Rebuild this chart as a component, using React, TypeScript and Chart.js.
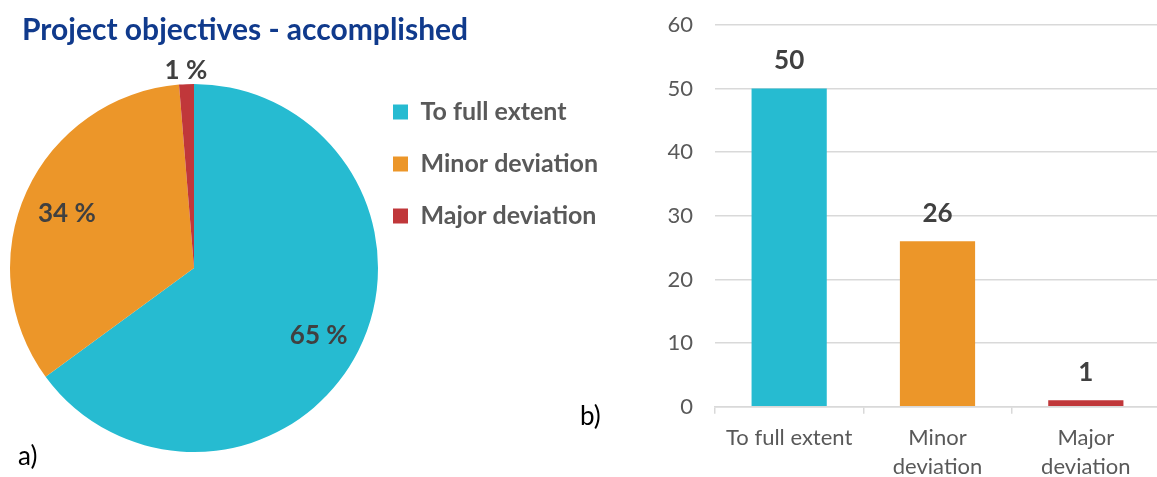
import React, { useEffect, useRef } from "react";
import { Chart, registerables } from "chart.js";

Chart.register(...registerables);

const FONT = "Lato, 'Open Sans', sans-serif";

const chartTitle = "Project objectives - accomplished";
const categories = ["To full extent", "Minor deviation", "Major deviation"];
const barTickLabels = [["To full extent"], ["Minor", "deviation"], ["Major", "deviation"]];
const counts = [50, 26, 1];
const sliceColors = ["#26BBD1", "#EC9629", "#C0373A"];
const yMin = 0;
const yMax = 60;
const yStep = 10;
const panelLabels = ["a)", "b)"];

const LEGEND_FONT_SIZE = 25;
const LEGEND_PAD = 27;
const LEGEND_BOX = 15;
const PIE_W = 640;
const LEGEND_LEFT = 366;

const pieLabelPlugin = {
  id: "pieLabels",
  afterDatasetsDraw(chart: any) {
    const ctx = chart.ctx;
    const meta = chart.getDatasetMeta(0);
    const data = chart.data.datasets[0].data as number[];
    const total = data.reduce((a, b) => a + b, 0);
    ctx.save();
    ctx.font = `bold 26px ${FONT}`;
    ctx.fillStyle = "#404040";
    ctx.textAlign = "center";
    ctx.textBaseline = "middle";
    meta.data.forEach((arc: any, i: number) => {
      const pct = (data[i] / total) * 100;
      const mid = (arc.startAngle + arc.endAngle) / 2;
      const outside = pct < 5;
      const f = outside ? 1.08 : 0.76;
      const r = arc.outerRadius * f;
      const x = arc.x + Math.cos(mid) * r;
      const y = arc.y + Math.sin(mid) * r + (outside ? 1 : 4);
      ctx.fillText(`${Math.round(pct)} %`, x, y);
    });
    ctx.restore();
  },
};

const barLabelPlugin = {
  id: "barLabels",
  afterDatasetsDraw(chart: any) {
    const ctx = chart.ctx;
    const meta = chart.getDatasetMeta(0);
    const data = chart.data.datasets[0].data as number[];
    ctx.save();
    ctx.font = `bold 26px ${FONT}`;
    ctx.fillStyle = "#404040";
    ctx.textAlign = "center";
    ctx.textBaseline = "middle";
    meta.data.forEach((bar: any, i: number) => {
      ctx.fillText(String(data[i]), bar.x, bar.y - 28);
    });
    ctx.restore();
  },
};

function legendRightPadding(): number {
  const c = document.createElement("canvas");
  const ctx = c.getContext("2d")!;
  ctx.font = `bold ${LEGEND_FONT_SIZE}px ${FONT}`;
  const maxText = Math.max(...categories.map((t) => ctx.measureText(t).width));
  const legendWidth = LEGEND_PAD + LEGEND_BOX + LEGEND_FONT_SIZE / 2 + maxText + 10;
  return Math.max(PIE_W - LEGEND_LEFT - legendWidth, 0);
}

export default function App() {
  const pieRef = useRef<HTMLCanvasElement>(null);
  const barRef = useRef<HTMLCanvasElement>(null);

  useEffect(() => {
    const padRight = legendRightPadding();
    const pie = new Chart(pieRef.current!, {
      type: "pie",
      data: {
        labels: categories,
        datasets: [
          {
            data: counts,
            backgroundColor: sliceColors,
            borderWidth: 0,
            radius: 184,
            hoverOffset: 0,
          } as any,
        ],
      },
      options: {
        animation: false,
        responsive: false,
        events: [],
        layout: { padding: { left: 22, top: 12, right: padRight, bottom: 9 } },
        plugins: {
          title: {
            display: true,
            text: chartTitle,
            align: "start",
            color: "#103A8C",
            font: { family: FONT, size: 30, weight: "bold", lineHeight: 1.2 },
            padding: { top: 0, bottom: 20 },
          },
          legend: {
            display: true,
            position: "right",
            align: "start",
            title: {
              display: true,
              text: " ",
              font: { family: FONT, size: 10, lineHeight: 1 },
              padding: { top: 50.5, bottom: 0 },
            },
            labels: {
              boxWidth: LEGEND_BOX,
              boxHeight: LEGEND_BOX,
              padding: LEGEND_PAD,
              color: "#595959",
              font: { family: FONT, size: LEGEND_FONT_SIZE, weight: "bold" },
            },
          },
          tooltip: { enabled: false },
        },
      } as any,
      plugins: [pieLabelPlugin],
    });

    const bar = new Chart(barRef.current!, {
      type: "bar",
      data: {
        labels: barTickLabels as any,
        datasets: [
          {
            data: counts,
            backgroundColor: sliceColors,
            borderWidth: 0,
            barPercentage: 0.507,
            categoryPercentage: 1,
          },
        ],
      },
      options: {
        animation: false,
        responsive: false,
        events: [],
        layout: { padding: { top: 25, left: 0, right: 0, bottom: 0 } },
        plugins: { legend: { display: false }, tooltip: { enabled: false } },
        scales: {
          x: {
            grid: {
              display: true,
              drawOnChartArea: false,
              drawTicks: true,
              tickLength: 7,
              offset: true,
              color: "#D9D9D9",
              lineWidth: 1.5,
            },
            border: { display: true, color: "#D9D9D9", width: 1.5 },
            ticks: {
              color: "#595959",
              font: { family: FONT, size: 22, lineHeight: 1.32 },
              padding: 10,
              maxRotation: 0,
              autoSkip: false,
            },
            afterFit: (s: any) => {
              s.height = 83.3;
            },
          },
          y: {
            min: yMin,
            max: yMax,
            ticks: {
              stepSize: yStep,
              color: "#595959",
              font: { family: FONT, size: 22 },
              padding: 8,
            },
            grid: {
              color: "#D9D9D9",
              lineWidth: 1.5,
              drawTicks: true,
              tickLength: 14,
              tickColor: "rgba(0,0,0,0)",
            },
            border: { display: false },
            afterFit: (s: any) => {
              s.width = 115;
            },
          },
        },
      } as any,
      plugins: [barLabelPlugin],
    });

    return () => {
      pie.destroy();
      bar.destroy();
    };
  }, []);

  const labelStyle: React.CSSProperties = {
    position: "absolute",
    fontFamily: FONT,
    fontSize: 26,
    color: "#000",
    lineHeight: "30px",
  };

  return (
    <div
      style={{
        position: "absolute",
        left: 0,
        top: 0,
        width: 1157,
        height: 477,
        overflow: "hidden",
        background: "#fff",
      }}
    >
      <canvas
        ref={pieRef}
        width={PIE_W}
        height={477}
        style={{ position: "absolute", left: 0, top: 0, width: PIE_W, height: 477 }}
      />
      <canvas
        ref={barRef}
        width={560}
        height={490}
        style={{ position: "absolute", left: 600, top: 0, width: 560, height: 490 }}
      />
      <div style={{ ...labelStyle, left: 18, top: 440 }}>{panelLabels[0]}</div>
      <div style={{ ...labelStyle, left: 580, top: 400 }}>{panelLabels[1]}</div>
    </div>
  );
}
